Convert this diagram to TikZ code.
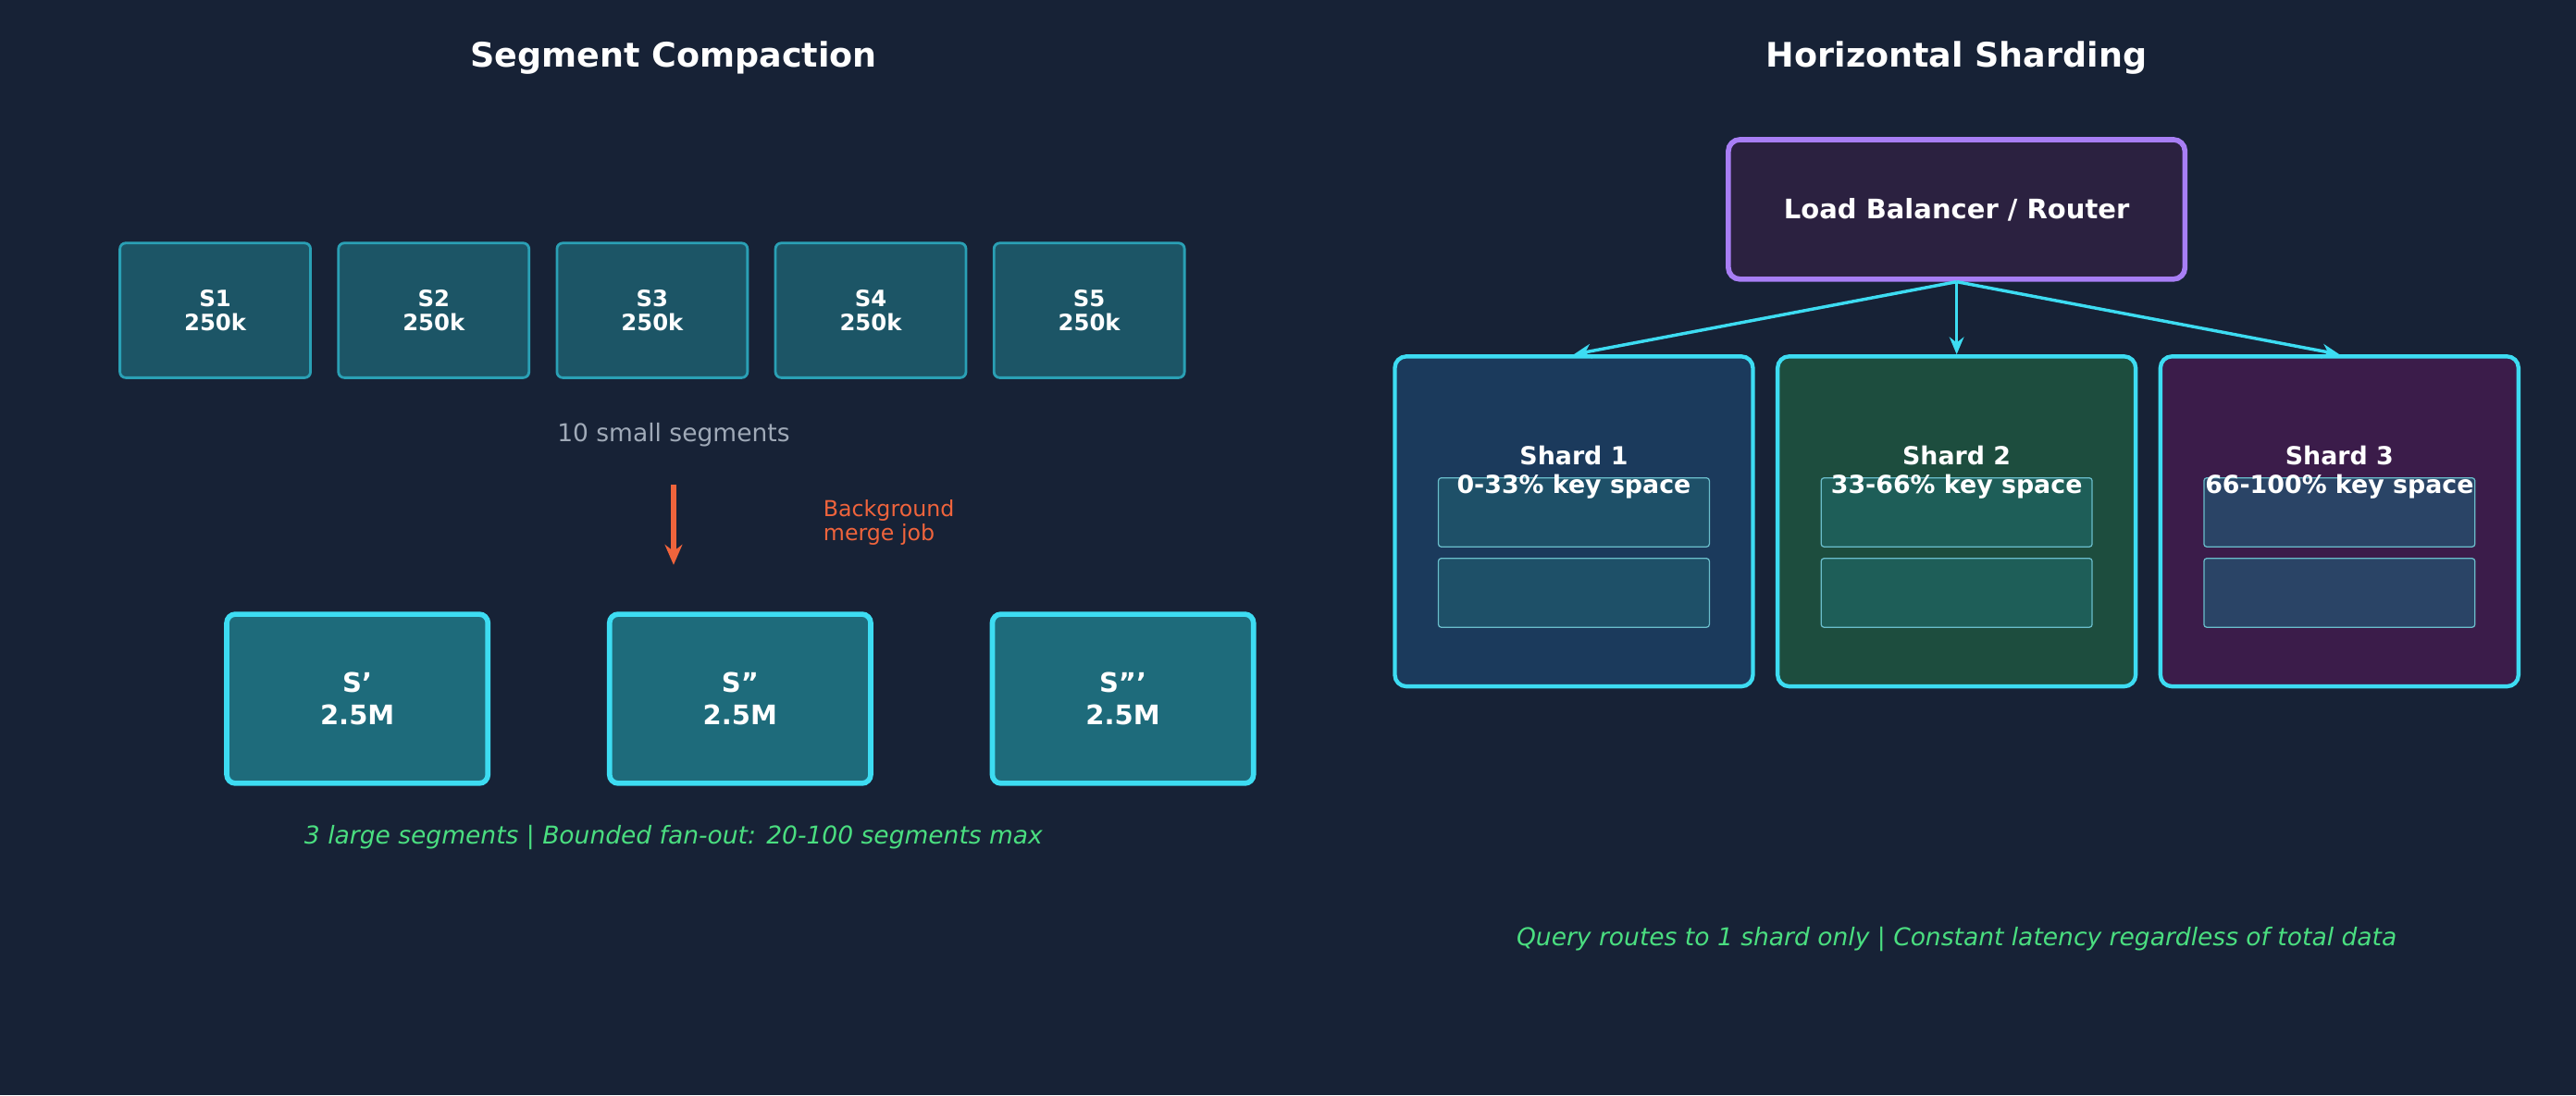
\documentclass[tikz,border=0pt]{standalone}
\usepackage{fontspec}
\setmainfont{DejaVu Sans}
\usetikzlibrary{arrows.meta}
\definecolor{bg}{HTML}{172236}
\definecolor{cyan}{HTML}{3DDCF2}
\definecolor{tealb}{HTML}{2AA0B5}
\definecolor{smallf}{HTML}{1C5566}
\definecolor{bigf}{HTML}{1E6B7B}
\definecolor{orng}{HTML}{F0643C}
\definecolor{grn}{HTML}{4ADE80}
\definecolor{gry}{HTML}{A0AAB8}
\definecolor{purp}{HTML}{A87EF5}
\definecolor{lbf}{HTML}{2B2140}
\definecolor{sha}{HTML}{1B3A5C}
\definecolor{shb}{HTML}{1D4D3E}
\definecolor{shc}{HTML}{3B1C4A}
\definecolor{ina}{HTML}{1E5068}
\definecolor{inb}{HTML}{1E5E58}
\definecolor{inc}{HTML}{2A4466}
\begin{document}
\begin{tikzpicture}[x=0.02cm,y=-0.02cm,
 title/.style={text=white,font=\bfseries\fontsize{11.7}{14}\selectfont},
 small/.style={draw=tealb,line width=0.9pt,fill=smallf,rounded corners=2pt,minimum width=2.32cm,minimum height=1.64cm,text=white,font=\bfseries\fontsize{7.8}{8.6}\selectfont,align=center},
 big/.style={draw=cyan,line width=1.8pt,fill=bigf,rounded corners=3pt,minimum width=3.18cm,minimum height=2.06cm,text=white,font=\bfseries\fontsize{9.3}{11}\selectfont,align=center},
 shard/.style={draw=cyan,line width=1.4pt,rounded corners=4pt,minimum width=4.36cm,minimum height=4.02cm},
 inner/.style={draw=tealb!70,line width=0.4pt,rounded corners=1pt,minimum width=3.3cm,minimum height=0.84cm},
 stxt/.style={text=white,font=\bfseries\fontsize{8.6}{10}\selectfont,align=center},
 note/.style={text=grn,font=\itshape\fontsize{8.5}{10}\selectfont},
 conn/.style={cyan,line width=1.1pt,-{Stealth[length=6pt,width=5pt]}}]
\fill[bg] (0,0) rectangle (1568,667);
\node[title] (t1) at (410,35) {Segment Compaction};
\node[title] (t2) at (1191,35) {Horizontal Sharding};
\node[small] (s1) at (131,189) {S1\\250k};
\node[small] (s2) at (264,189) {S2\\250k};
\node[small] (s3) at (397,189) {S3\\250k};
\node[small] (s4) at (530,189) {S4\\250k};
\node[small] (s5) at (663,189) {S5\\250k};
\node[text=gry,font=\fontsize{8.5}{10}\selectfont] (ss) at (410,265) {10 small segments};
\coordinate (a1) at (410,295); \coordinate (a2) at (410,344);
\draw[orng,line width=2.2pt,-{Stealth[length=7pt,width=6pt]}] (a1) -- (a2);
\node[text=orng,font=\fontsize{7.6}{8.4}\selectfont,align=left,anchor=west] (bm) at (495,318) {Background\\merge job};
\node[big] (b1) at (217.5,425.5) {S'\\2.5M};
\node[big] (b2) at (450.5,425.5) {S''\\2.5M};
\node[big] (b3) at (683.5,425.5) {S'''\\2.5M};
\node[note] (n1) at (410,510) {3 large segments | Bounded fan-out: 20-100 segments max};
\node[draw=purp,line width=1.8pt,fill=lbf,rounded corners=4pt,minimum width=5.56cm,minimum height=1.7cm,text=white,font=\bfseries\fontsize{9.3}{11}\selectfont] (lb) at (1191,127.5) {Load Balancer / Router};
\foreach \n/\x/\f/\i/\t in {h1/958/sha/ina/{Shard 1\\0-33\% key space},h2/1191/shb/inb/{Shard 2\\33-66\% key space},h3/1424/shc/inc/{Shard 3\\66-100\% key space}}{
 \node[shard,fill=\f] (\n) at (\x,317.5) {};
 \node[inner,fill=\i] (\n a) at (\x,312) {};
 \node[inner,fill=\i] (\n b) at (\x,361) {};
 \node[stxt] (\n t) at (\x,287.5) {\t};
}
\draw[conn] (lb.south) -- (h1.north);
\draw[conn] (lb.south) -- (h2.north);
\draw[conn] (lb.south) -- (h3.north);
\node[note] (n2) at (1191,572) {Query routes to 1 shard only | Constant latency regardless of total data};
\end{tikzpicture}
\end{document}
